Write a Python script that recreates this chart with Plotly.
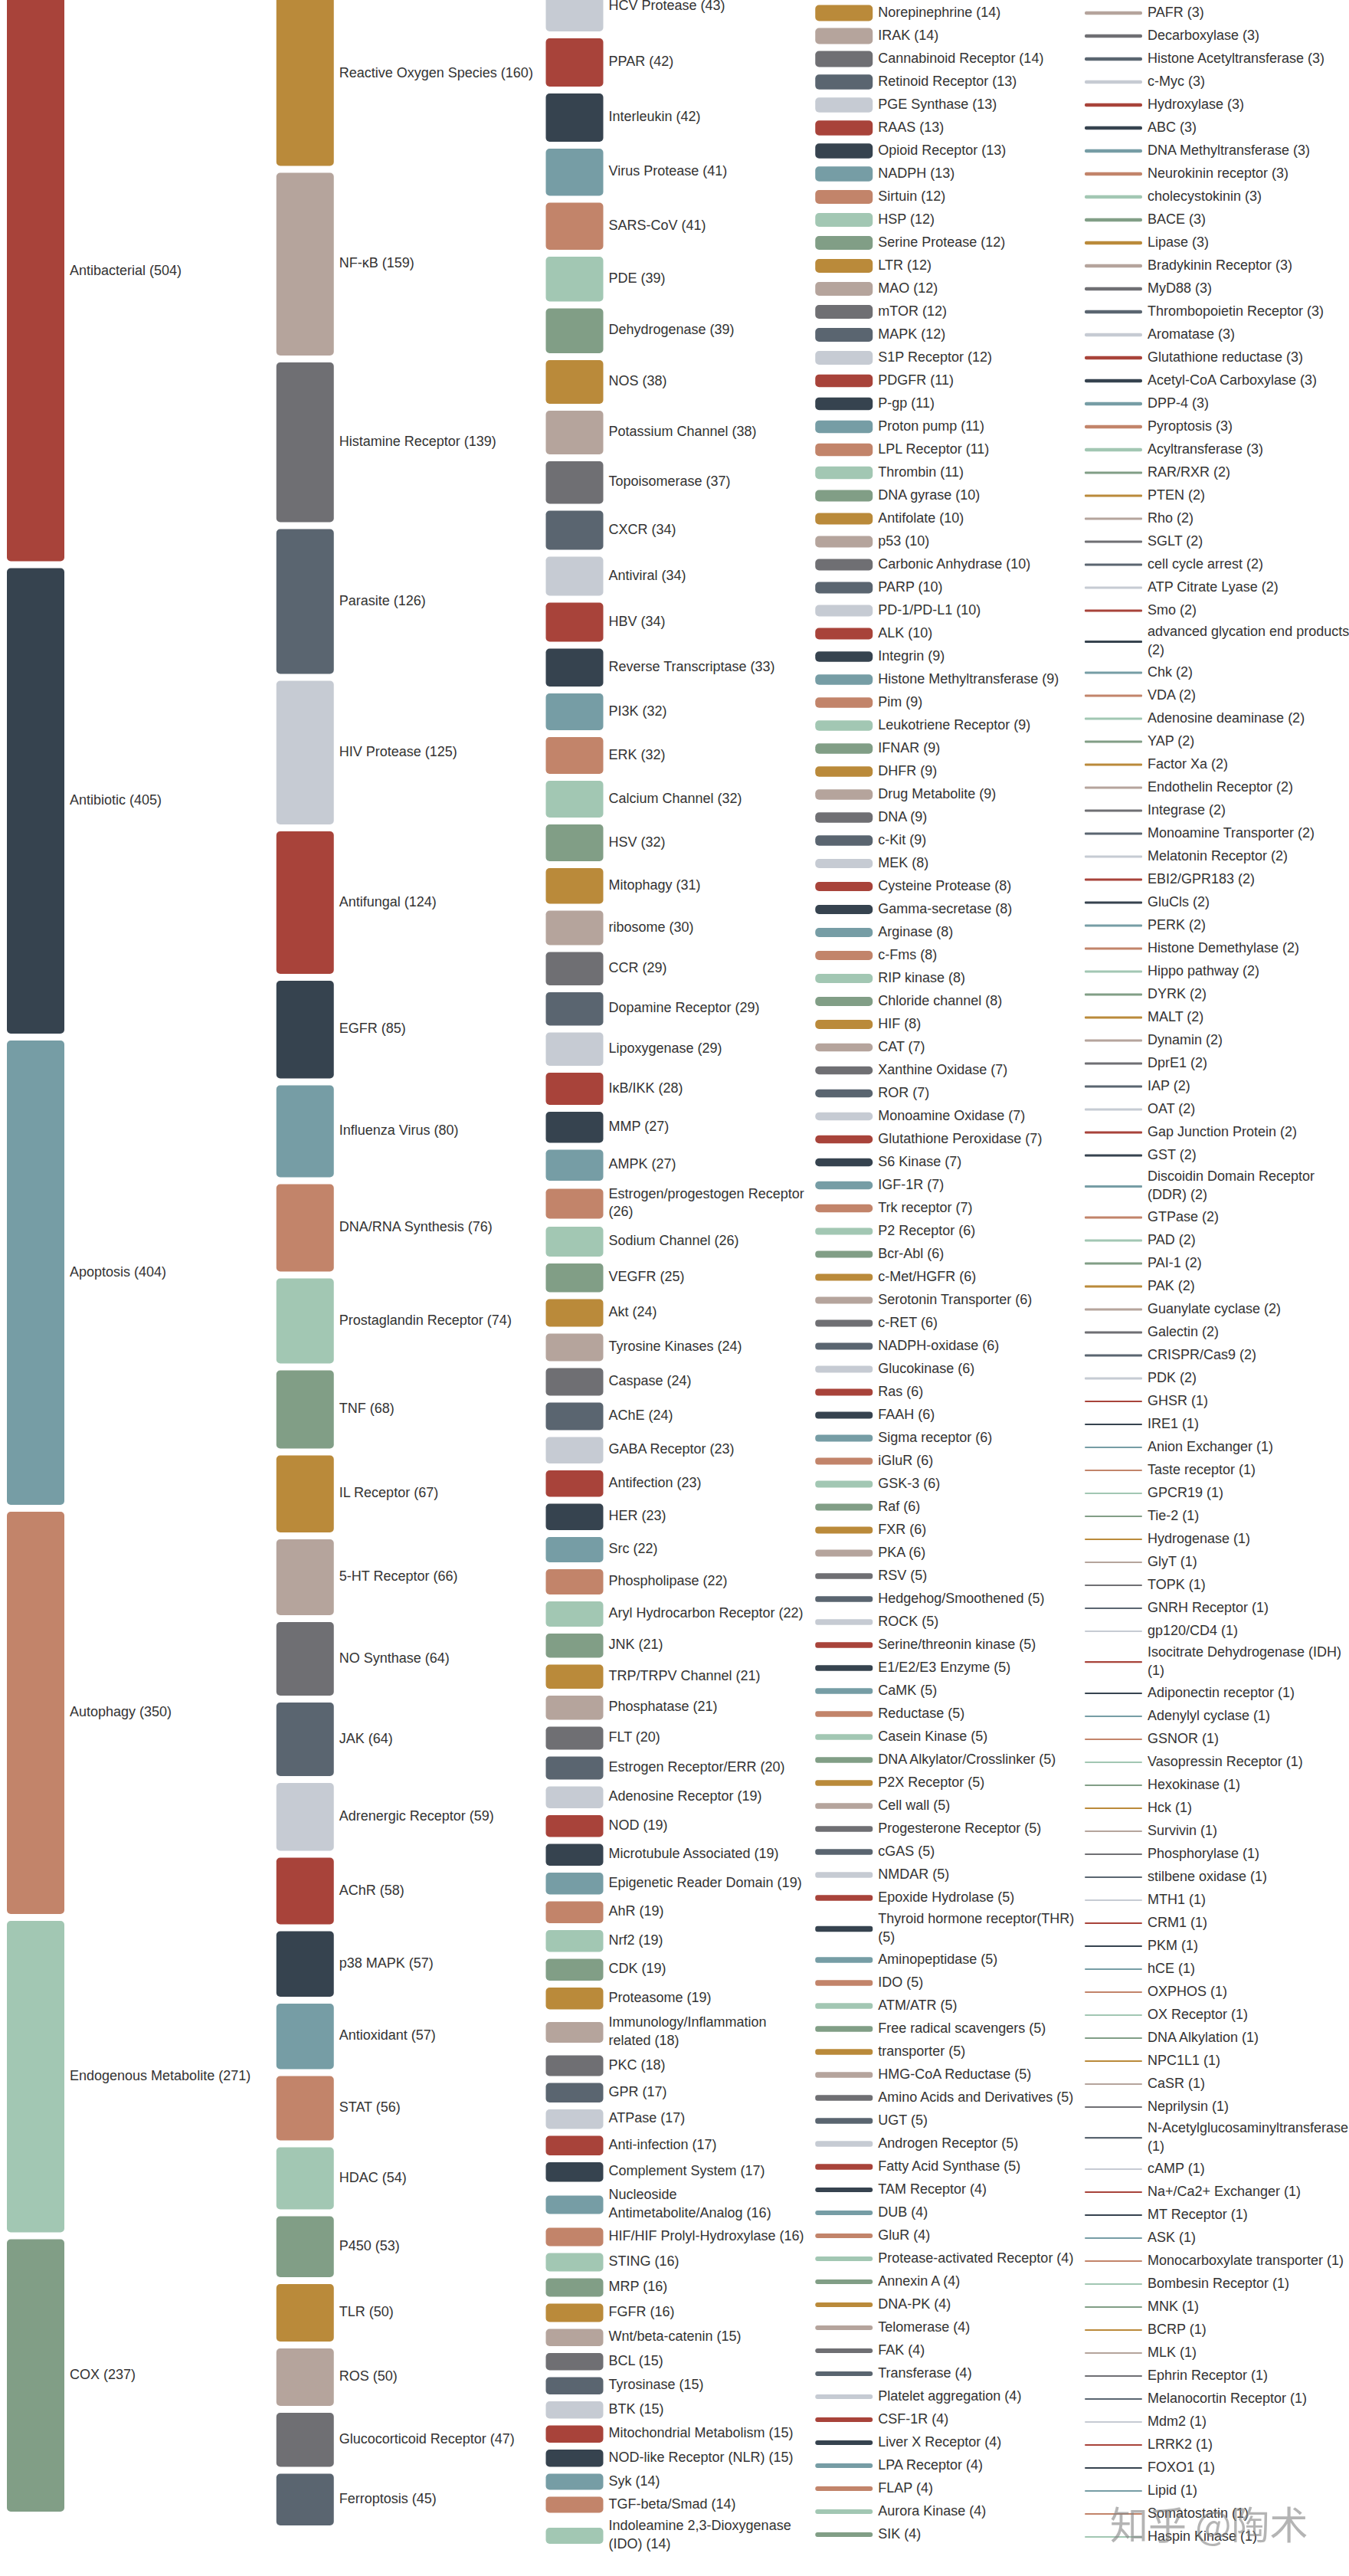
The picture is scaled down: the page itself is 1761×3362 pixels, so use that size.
import plotly.graph_objects as go

# ---------------- data ----------------
palette = ["#A8433A", "#36434F", "#769DA5", "#C2846A", "#A2C7B3", "#819E86",
           "#BA8A3A", "#B5A49C", "#6F6F73", "#5A6570", "#C6CBD3"]

col1_names = ["Antibacterial", "Antibiotic", "Apoptosis", "Autophagy",
              "Endogenous Metabolite", "COX"]
col1_values = [504, 405, 404, 350, 271, 237]

col2_names = ["Reactive Oxygen Species", "NF-κB", "Histamine Receptor", "Parasite",
              "HIV Protease", "Antifungal", "EGFR", "Influenza Virus",
              "DNA/RNA Synthesis", "Prostaglandin Receptor", "TNF", "IL Receptor",
              "5-HT Receptor", "NO Synthase", "JAK", "Adrenergic Receptor", "AChR",
              "p38 MAPK", "Antioxidant", "STAT", "HDAC", "P450", "TLR", "ROS",
              "Glucocorticoid Receptor", "Ferroptosis"]
col2_values = [160, 159, 139, 126, 125, 124, 85, 80, 76, 74, 68, 67, 66, 64, 64,
               59, 58, 57, 57, 56, 54, 53, 50, 50, 47, 45]

col3_names = ["HCV Protease", "PPAR", "Interleukin", "Virus Protease", "SARS-CoV",
              "PDE", "Dehydrogenase", "NOS", "Potassium Channel", "Topoisomerase",
              "CXCR", "Antiviral", "HBV", "Reverse Transcriptase", "PI3K", "ERK",
              "Calcium Channel", "HSV", "Mitophagy", "ribosome", "CCR",
              "Dopamine Receptor", "Lipoxygenase", "IκB/IKK", "MMP", "AMPK",
              "Estrogen/progestogen Receptor\n", "Sodium Channel", "VEGFR", "Akt",
              "Tyrosine Kinases", "Caspase", "AChE", "GABA Receptor", "Antifection",
              "HER", "Src", "Phospholipase", "Aryl Hydrocarbon Receptor", "JNK",
              "TRP/TRPV Channel", "Phosphatase", "FLT", "Estrogen Receptor/ERR",
              "Adenosine Receptor", "NOD", "Microtubule Associated",
              "Epigenetic Reader Domain", "AhR", "Nrf2", "CDK", "Proteasome",
              "Immunology/Inflammation\nrelated", "PKC", "GPR", "ATPase",
              "Anti-infection", "Complement System", "Nucleoside\nAntimetabolite/Analog",
              "HIF/HIF Prolyl-Hydroxylase", "STING", "MRP", "FGFR", "Wnt/beta-catenin",
              "BCL", "Tyrosinase", "BTK", "Mitochondrial Metabolism",
              "NOD-like Receptor (NLR)", "Syk", "TGF-beta/Smad",
              "Indoleamine 2,3-Dioxygenase\n(IDO)"]
col3_values = [43, 42, 42, 41, 41, 39, 39, 38, 38, 37, 34, 34, 34, 33, 32, 32, 32,
               32, 31, 30, 29, 29, 29, 28, 27, 27, 26, 26, 25, 24, 24, 24, 24, 23,
               23, 23, 22, 22, 22, 21, 21, 21, 20, 20, 19, 19, 19, 19, 19, 19, 19,
               19, 18, 18, 17, 17, 17, 17, 16, 16, 16, 16, 16, 15, 15, 15, 15, 15,
               15, 14, 14, 14]

col4_names = ["Norepinephrine", "IRAK", "Cannabinoid Receptor", "Retinoid Receptor",
              "PGE Synthase", "RAAS", "Opioid Receptor", "NADPH", "Sirtuin", "HSP",
              "Serine Protease", "LTR", "MAO", "mTOR", "MAPK", "S1P Receptor", "PDGFR",
              "P-gp", "Proton pump", "LPL Receptor", "Thrombin", "DNA gyrase",
              "Antifolate", "p53", "Carbonic Anhydrase", "PARP", "PD-1/PD-L1", "ALK",
              "Integrin", "Histone Methyltransferase", "Pim", "Leukotriene Receptor",
              "IFNAR", "DHFR", "Drug Metabolite", "DNA", "c-Kit", "MEK",
              "Cysteine Protease", "Gamma-secretase", "Arginase", "c-Fms",
              "RIP kinase", "Chloride channel", "HIF", "CAT", "Xanthine Oxidase",
              "ROR", "Monoamine Oxidase", "Glutathione Peroxidase", "S6 Kinase",
              "IGF-1R", "Trk receptor", "P2 Receptor", "Bcr-Abl", "c-Met/HGFR",
              "Serotonin Transporter", "c-RET", "NADPH-oxidase", "Glucokinase", "Ras",
              "FAAH", "Sigma receptor", "iGluR", "GSK-3", "Raf", "FXR", "PKA", "RSV",
              "Hedgehog/Smoothened", "ROCK", "Serine/threonin kinase",
              "E1/E2/E3 Enzyme", "CaMK", "Reductase", "Casein Kinase",
              "DNA Alkylator/Crosslinker", "P2X Receptor", "Cell wall",
              "Progesterone Receptor", "cGAS", "NMDAR", "Epoxide Hydrolase",
              "Thyroid hormone receptor(THR)\n", "Aminopeptidase", "IDO", "ATM/ATR",
              "Free radical scavengers", "transporter", "HMG-CoA Reductase",
              "Amino Acids and Derivatives", "UGT", "Androgen Receptor",
              "Fatty Acid Synthase", "TAM Receptor", "DUB", "GluR",
              "Protease-activated Receptor", "Annexin A", "DNA-PK", "Telomerase",
              "FAK", "Transferase", "Platelet aggregation", "CSF-1R",
              "Liver X Receptor", "LPA Receptor", "FLAP", "Aurora Kinase", "SIK"]
col4_values = [14, 14, 14, 13, 13, 13, 13, 13, 12, 12, 12, 12, 12, 12, 12, 12,
               11, 11, 11, 11, 11, 10, 10, 10, 10, 10, 10, 10,
               9, 9, 9, 9, 9, 9, 9, 9, 9, 8, 8, 8, 8, 8, 8, 8, 8,
               7, 7, 7, 7, 7, 7, 7, 7,
               6, 6, 6, 6, 6, 6, 6, 6, 6, 6, 6, 6, 6, 6, 6,
               5, 5, 5, 5, 5, 5, 5, 5, 5, 5, 5, 5, 5, 5, 5, 5, 5, 5, 5, 5, 5, 5,
               5, 5, 5, 5,
               4, 4, 4, 4, 4, 4, 4, 4, 4, 4, 4, 4, 4, 4, 4, 4]

col5_names = ["PAFR", "Decarboxylase", "Histone Acetyltransferase", "c-Myc",
              "Hydroxylase", "ABC", "DNA Methyltransferase", "Neurokinin receptor",
              "cholecystokinin", "BACE", "Lipase", "Bradykinin Receptor", "MyD88",
              "Thrombopoietin Receptor", "Aromatase", "Glutathione reductase",
              "Acetyl-CoA Carboxylase", "DPP-4", "Pyroptosis", "Acyltransferase",
              "RAR/RXR", "PTEN", "Rho", "SGLT", "cell cycle arrest",
              "ATP Citrate Lyase", "Smo", "advanced glycation end products\n", "Chk",
              "VDA", "Adenosine deaminase", "YAP", "Factor Xa", "Endothelin Receptor",
              "Integrase", "Monoamine Transporter", "Melatonin Receptor",
              "EBI2/GPR183", "GluCls", "PERK", "Histone Demethylase", "Hippo pathway",
              "DYRK", "MALT", "Dynamin", "DprE1", "IAP", "OAT",
              "Gap Junction Protein", "GST", "Discoidin Domain Receptor\n(DDR)",
              "GTPase", "PAD", "PAI-1", "PAK", "Guanylate cyclase", "Galectin",
              "CRISPR/Cas9", "PDK", "GHSR", "IRE1", "Anion Exchanger",
              "Taste receptor", "GPCR19", "Tie-2", "Hydrogenase", "GlyT", "TOPK",
              "GNRH Receptor", "gp120/CD4", "Isocitrate Dehydrogenase (IDH)\n",
              "Adiponectin receptor", "Adenylyl cyclase", "GSNOR",
              "Vasopressin Receptor", "Hexokinase", "Hck", "Survivin",
              "Phosphorylase", "stilbene oxidase", "MTH1", "CRM1", "PKM", "hCE",
              "OXPHOS", "OX Receptor", "DNA Alkylation", "NPC1L1", "CaSR",
              "Neprilysin", "N-Acetylglucosaminyltransferase\n", "cAMP",
              "Na+/Ca2+ Exchanger", "MT Receptor", "ASK",
              "Monocarboxylate transporter", "Bombesin Receptor", "MNK", "BCRP",
              "MLK", "Ephrin Receptor", "Melanocortin Receptor", "Mdm2", "LRRK2",
              "FOXO1", "Lipid", "Somatostatin", "Haspin Kinase"]
col5_values = [3] * 20 + [2] * 39 + [1] * 49

columns = [(col1_names, col1_values), (col2_names, col2_values),
           (col3_names, col3_values), (col4_names, col4_values),
           (col5_names, col5_values)]

# ---------------- layout constants ----------------
W, H = 1761, 3362
SCALE = 1.5          # px per unit
GAP = 9              # px between nodes
LINE = 21            # px per label line
COL_LEFT0 = 9
COL_STEP = 351.75
BAR_W = 75
LABEL_PAD = 7
TOP = -28            # chart is cropped at the top
HIDDEN = [0, 0, 0, 1, 1]   # leading nodes cropped above the visible area
HIDDEN_SLOT = 30

bx, bbase, bh, bcol = [], [], [], []
tx, ty, tt = [], [], []
cidx = 0
for ci, (names, vals) in enumerate(columns):
    left = COL_LEFT0 + ci * COL_STEP
    y = TOP + HIDDEN[ci] * HIDDEN_SLOT
    cidx += HIDDEN[ci]
    for name, v in zip(names, vals):
        label = f"{name} ({v})".replace("\n ", "<br>").replace("\n", "<br>")
        nl = label.count("<br>") + 1
        h = v * SCALE
        slot = max(h, nl * LINE) + GAP
        center = y + slot / 2
        bx.append(left + BAR_W / 2)
        bbase.append(center - h / 2)
        bh.append(h)
        bcol.append(palette[cidx % len(palette)])
        tx.append(left + BAR_W + LABEL_PAD)
        ty.append(center)
        tt.append(label)
        y += slot
        cidx += 1

fig = go.Figure()
fig.add_trace(go.Bar(x=bx, y=bh, base=bbase, width=[BAR_W] * len(bx),
                     marker=dict(color=bcol, line=dict(width=0)),
                     hoverinfo="skip", showlegend=False))
fig.add_trace(go.Scatter(x=tx, y=ty, text=tt, mode="text",
                         textposition="middle right",
                         textfont=dict(family="Liberation Sans, Arial, sans-serif",
                                       size=18, color="#333333"),
                         hoverinfo="skip", showlegend=False, cliponaxis=False))

fig.add_annotation(x=1578, y=3292, xref="x", yref="y", text="知乎 @陶术",
                   showarrow=False,
                   font=dict(family="Noto Sans CJK SC", size=50,
                             color="rgba(130,130,130,0.6)"))

fig.update_layout(width=W, height=H, margin=dict(l=0, r=0, t=0, b=0),
                  paper_bgcolor="white", plot_bgcolor="white",
                  barmode="overlay", barcornerradius=5,
                  xaxis=dict(range=[0, W], visible=False, fixedrange=True),
                  yaxis=dict(range=[H, 0], visible=False, fixedrange=True))

fig.write_html("out.html")
